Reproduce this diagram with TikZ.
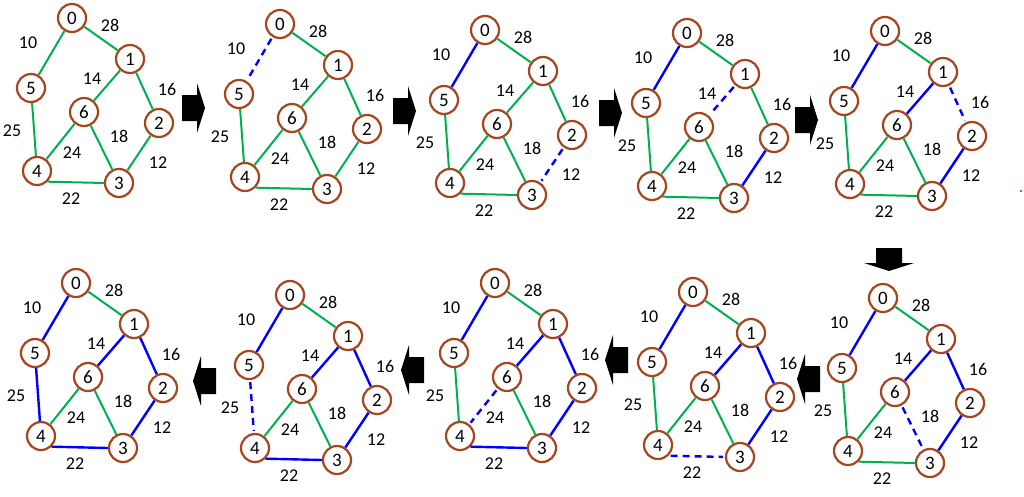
\documentclass[tikz,border=0pt]{standalone}
\usepackage{fontspec}
\setmainfont{Carlito}
\definecolor{nodebrown}{HTML}{A5461F}
\definecolor{egreen}{HTML}{00B050}
\definecolor{eblue}{HTML}{0000FF}
\newcommand\drawpanel[1]{%
  \node[vert] (#1n0) at (0,0) {0};
  \node[vert] (#1n1) at (58,41) {1};
  \node[vert] (#1n2) at (87,105) {2};
  \node[vert] (#1n3) at (47,165) {3};
  \node[vert] (#1n4) at (-35,153) {4};
  \node[vert] (#1n5) at (-41,70) {5};
  \node[vert] (#1n6) at (12,94) {6};
  \path[eZeroOne] (#1n0) -- (#1n1);
  \path[eZeroFive] (#1n0) -- (#1n5);
  \path[eOneSix] (#1n1) -- (#1n6);
  \path[eOneTwo] (#1n1) -- (#1n2);
  \path[eFiveFour] (#1n5) -- (#1n4);
  \path[eSixThree] (#1n6) -- (#1n3);
  \path[eSixFour] (#1n6) -- (#1n4);
  \path[eTwoThree] (#1n2) -- (#1n3);
  \path[eFourThree] (#1n4.-45) -- (#1n3.west);
  \node[wt] (#1w28) at (38,7) {28};
  \node[wt] (#1w10) at (-44,25) {10};
  \node[wt] (#1w14) at (20,61) {14};
  \node[wt] (#1w16) at (95,71) {16};
  \node[wt] (#1w25) at (-60,113) {25};
  \node[wt] (#1w18) at (47,118) {18};
  \node[wt] (#1w24) at (0,135) {24};
  \node[wt] (#1w12) at (86,145) {12};
  \node[wt] (#1w22) at (-1,181) {22};
}
\begin{document}
\begin{tikzpicture}[x=1pt,y=-1pt,
  vert/.style={circle,draw=nodebrown,line width=2.2pt,minimum size=28pt,inner sep=0pt,fill=white,font=\fontsize{19}{19}\selectfont},
  wt/.style={inner sep=0pt,font=\fontsize{18}{18}\selectfont},
  greenedge/.style={draw=egreen,line width=2pt},
  blueedge/.style={draw=eblue,line width=2.4pt},
  dashedge/.style={draw=eblue,line width=2.4pt,dash pattern=on 7pt off 5pt,shorten <=2pt,shorten >=2pt},
  eZeroOne/.style=greenedge, eZeroFive/.style=greenedge, eOneSix/.style=greenedge,
  eOneTwo/.style=greenedge, eFiveFour/.style=greenedge, eSixThree/.style=greenedge,
  eSixFour/.style=greenedge, eTwoThree/.style=greenedge, eFourThree/.style=greenedge,
  blockarrow/.pic={\fill[black] (-15,-13) -- (0,-13) -- (0,-25) -- (8,0) -- (0,25) -- (0,13) -- (-15,13) -- cycle;}
]
\fill[white] (0,0) rectangle (1024,496);
\useasboundingbox (0,0) rectangle (1024,496);

% top row
\begin{scope}[shift={(72,18)}]
  \drawpanel{a}
\end{scope}
\begin{scope}[shift={(280,24)}, eZeroFive/.style=dashedge]
  \drawpanel{b}
\end{scope}
\begin{scope}[shift={(485,30)}, eZeroFive/.style=blueedge, eTwoThree/.style=dashedge]
  \drawpanel{c}
\end{scope}
\begin{scope}[shift={(687,33)}, eZeroFive/.style=blueedge, eTwoThree/.style=blueedge, eOneSix/.style=dashedge]
  \drawpanel{d}
\end{scope}
\begin{scope}[shift={(885,31)}, eZeroFive/.style=blueedge, eTwoThree/.style=blueedge, eOneSix/.style=blueedge, eOneTwo/.style=dashedge]
  \drawpanel{e}
\end{scope}

% bottom row
\begin{scope}[shift={(883,298)}, eZeroFive/.style=blueedge, eTwoThree/.style=blueedge, eOneSix/.style=blueedge, eOneTwo/.style=blueedge, eSixThree/.style=dashedge]
  \drawpanel{f}
\end{scope}
\begin{scope}[shift={(693,292)}, eZeroFive/.style=blueedge, eTwoThree/.style=blueedge, eOneSix/.style=blueedge, eOneTwo/.style=blueedge, eFourThree/.style=dashedge]
  \drawpanel{g}
\end{scope}
\begin{scope}[shift={(495,283)}, eZeroFive/.style=blueedge, eTwoThree/.style=blueedge, eOneSix/.style=blueedge, eOneTwo/.style=blueedge, eFourThree/.style=blueedge, eSixFour/.style=dashedge]
  \drawpanel{h}
\end{scope}
\begin{scope}[shift={(290,295)}, eZeroFive/.style=blueedge, eTwoThree/.style=blueedge, eOneSix/.style=blueedge, eOneTwo/.style=blueedge, eFourThree/.style=blueedge, eFiveFour/.style=dashedge]
  \drawpanel{i}
\end{scope}
\begin{scope}[shift={(76,283)}, eZeroFive/.style=blueedge, eTwoThree/.style=blueedge, eOneSix/.style=blueedge, eOneTwo/.style=blueedge, eFourThree/.style=blueedge, eFiveFour/.style=blueedge]
  \drawpanel{j}
\end{scope}

% block arrows
\pic at (197,108) {blockarrow};
\pic at (408,111) {blockarrow};
\pic at (614,113) {blockarrow};
\pic at (810,120) {blockarrow};
\pic[rotate=-90] at (889,263) {blockarrow};
\pic[rotate=180] at (805,379) {blockarrow};
\pic[rotate=180] at (613,360) {blockarrow};
\pic[rotate=180] at (409,370) {blockarrow};
\pic[rotate=180] at (201,381) {blockarrow};

% stray red dot
\fill[red] (1021,191) circle (1.2);
\end{tikzpicture}
\end{document}
